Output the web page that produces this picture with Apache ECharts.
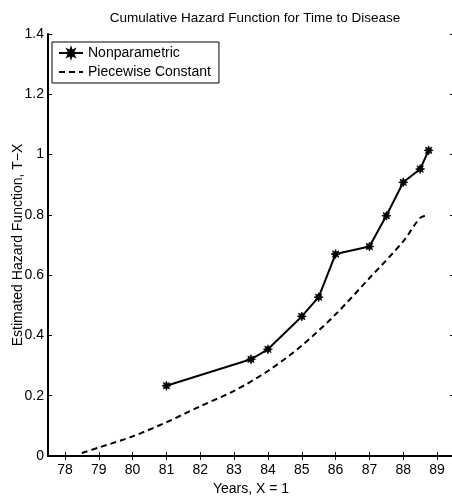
<!DOCTYPE html>
<html>
<head>
<meta charset="utf-8">
<script src="https://cdn.jsdelivr.net/npm/echarts@6/dist/echarts.min.js"></script>
<style>
  html, body { margin: 0; padding: 0; background: #fff; }
  #chart { width: 452px; height: 501px; }
</style>
</head>
<body>
<div id="chart"></div>
<script>
// Nonparametric estimate of the cumulative hazard (age in years, value)
const npYears  = [81, 83.5, 84, 85, 85.5, 86, 87, 87.5, 88, 88.5, 88.75];
const npHazard = [0.233, 0.321, 0.354, 0.463, 0.527, 0.670, 0.695, 0.797, 0.908, 0.952, 1.014];

// Piecewise-constant hazard model, cumulated
const pcYears  = [78.5, 79, 80, 81, 82, 83, 84, 85, 86, 87, 88, 88.5, 88.75];
const pcHazard = [0.010, 0.028, 0.065, 0.112, 0.165, 0.216, 0.282, 0.366, 0.470, 0.590, 0.712, 0.790, 0.800];

// Tick labels
const xTicks = [78, 79, 80, 81, 82, 83, 84, 85, 86, 87, 88, 89];
const yTicks = [0, 0.2, 0.4, 0.6, 0.8, 1, 1.2, 1.4];

const FONT = 'Liberation Sans, Arial, Helvetica, sans-serif';
const star = 'path://M20,10 L14.62,11.91 L17.07,17.07 L11.91,14.62 L10,20 L8.09,14.62 L2.93,17.07 L5.38,11.91 L0,10 L5.38,8.09 L2.93,2.93 L8.09,5.38 L10,0 L11.91,5.38 L17.07,2.93 L14.62,8.09 Z';

const pair = (xs, ys) => xs.map((x, i) => [x, ys[i]]);

const axisLine = { show: true, lineStyle: { color: '#000', width: 2 } };
const tickIn = (vals) => ({ show: true, inside: true, length: 4, customValues: vals, lineStyle: { color: '#000', width: 1 } });

const chart = echarts.init(document.getElementById('chart'), null, { renderer: 'canvas' });
chart.setOption({
  animation: false,
  backgroundColor: '#fff',
  textStyle: { fontFamily: FONT, color: '#000' },
  title: {
    text: 'Cumulative Hazard Function for Time to Disease',
    left: 250,
    top: 6,
    textAlign: 'center',
    textStyle: { fontFamily: FONT, fontSize: 13.5, fontWeight: 'normal', color: '#000' }
  },
  legend: {
    orient: 'vertical',
    left: 52,
    top: 42,
    padding: [4, 8, 4, 6],
    itemGap: 5,
    itemWidth: 24,
    itemHeight: 12,
    borderColor: '#000',
    borderWidth: 1,
    backgroundColor: '#fff',
    textStyle: { fontFamily: FONT, fontSize: 14, color: '#000' },
    data: [
      { name: 'Nonparametric' },
      { name: 'Piecewise Constant', itemStyle: { opacity: 0 } }
    ]
  },
  grid: { left: 48, top: 34, right: -2, bottom: 45, containLabel: false, outerBoundsMode: 'none' },
  xAxis: [
    {
      type: 'value', position: 'bottom', min: 77.5, max: 89.5,
      name: 'Years, X = 1', nameLocation: 'middle', nameGap: 26, nameMoveOverlap: false,
      nameTextStyle: { fontFamily: FONT, fontSize: 14, color: '#000' },
      axisLine: axisLine,
      axisTick: tickIn(xTicks),
      axisLabel: { show: true, customValues: xTicks, margin: 7, fontFamily: FONT, fontSize: 14, color: '#000' },
      splitLine: { show: false }
    },
    {
      type: 'value', position: 'top', min: 77.5, max: 89.5,
      axisLine: axisLine,
      axisTick: tickIn(xTicks),
      axisLabel: { show: false },
      splitLine: { show: false }
    }
  ],
  yAxis: [
    {
      type: 'value', position: 'left', min: 0, max: 1.4, interval: 0.2,
      name: 'Estimated Hazard Function, T\u2212X', nameLocation: 'middle', nameGap: 23, nameRotate: 90,
      nameMoveOverlap: false,
      nameTextStyle: { fontFamily: FONT, fontSize: 14, color: '#000' },
      axisLine: axisLine,
      axisTick: tickIn(yTicks),
      axisLabel: { show: true, customValues: yTicks, margin: 4, fontFamily: FONT, fontSize: 14, color: '#000',
                   formatter: (v) => String(+v.toFixed(1)) },
      splitLine: { show: false }
    },
    {
      type: 'value', position: 'right', min: 0, max: 1.4, interval: 0.2,
      axisLine: axisLine,
      axisTick: tickIn(yTicks),
      axisLabel: { show: false },
      splitLine: { show: false }
    }
  ],
  series: [
    {
      name: 'Nonparametric',
      type: 'line',
      data: pair(npYears, npHazard),
      symbol: star,
      symbolSize: 9,
      showAllSymbol: true,
      itemStyle: { color: '#000', borderColor: '#000', borderWidth: 0.8 },
      lineStyle: { color: '#000', width: 2 },
      z: 3
    },
    {
      name: 'Piecewise Constant',
      type: 'line',
      data: pair(pcYears, pcHazard),
      smooth: 0.3,
      symbol: 'none',
      itemStyle: { color: '#000' },
      lineStyle: { color: '#000', width: 2, type: [6, 4] },
      z: 2
    }
  ]
});
</script>
</body>
</html>
